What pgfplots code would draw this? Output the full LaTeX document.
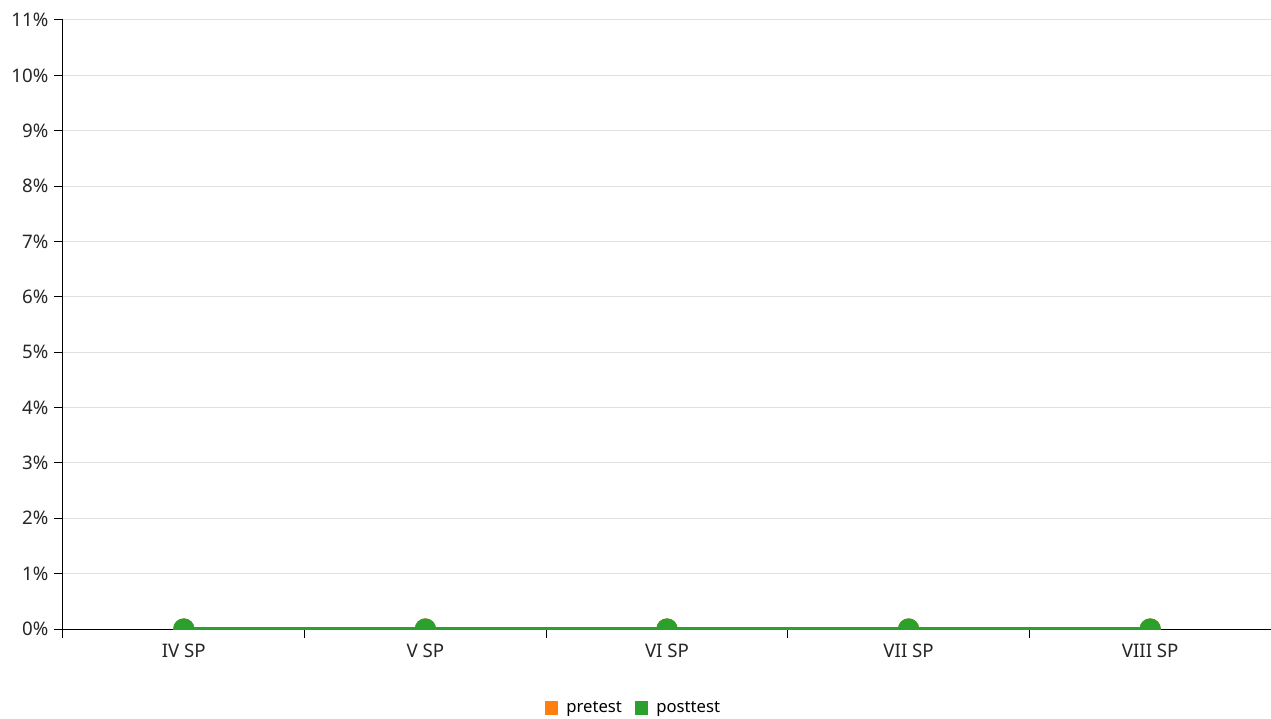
\documentclass[border=0pt]{standalone}
\usepackage{pgfplots}
\pgfplotsset{compat=1.18}
\usepackage{fontspec}
\setmainfont{Noto Sans}

\definecolor{cpre}{HTML}{FF7F0E}
\definecolor{cpost}{HTML}{2CA02C}
\definecolor{gridc}{HTML}{E0E0E0}

\begin{document}
\begin{tikzpicture}
\begin{axis}[
    scale only axis,
    width=906pt, height=456.75pt,
    xmin=-0.5, xmax=4.5,
    ymin=0, ymax=11,
    clip marker paths=true,
    axis x line=bottom, axis y line=left,
    axis line style={-, black, line width=0.75pt},
    xtick={0,1,2,3,4},
    xticklabels={IV SP, V SP, VI SP, VII SP, VIII SP},
    major x tick style={draw=none},
    minor xtick={-0.5,0.5,1.5,2.5,3.5,4.5},
    minor x tick style={black, line width=0.75pt},
    minor tick length=7pt,
    ytick={0,1,...,11},
    yticklabel={\pgfmathprintnumber{\tick}\%},
    y tick style={black, line width=0.75pt},
    major tick length=6.5pt,
    tick align=outside,
    ymajorgrids,
    grid style={gridc, line width=0.75pt},
    /pgf/number format/assume math mode=true,
    tick label style={font=\fontsize{14}{16}\selectfont, text=black!85},
    xticklabel style={yshift=-1.5pt},
    yticklabel style={xshift=-1pt},
    legend style={
        at={(0.4727,-0.1297)}, anchor=center,
        draw=none, fill=none,
        legend columns=-1,
        font=\fontsize{12.5}{14}\selectfont,
        /tikz/every odd column/.append style={column sep=4pt},
        /tikz/every even column/.append style={column sep=8pt},
    },
    legend image code/.code={\fill[#1, draw=none] (0pt,-4.9pt) rectangle (9.8pt,4.9pt);},
]
\addplot[color=cpre, line width=3.5pt, mark=*, mark size=6.2pt, fill=cpre]
    coordinates {(0,0) (1,0) (2,0) (3,0) (4,0)};
\addlegendentry{pretest}
\addplot[color=cpost, line width=3.5pt, mark=*, mark size=6.2pt, fill=cpost]
    coordinates {(0,0) (1,0) (2,0) (3,0) (4,0)};
\addlegendentry{posttest}
\end{axis}
\pgfresetboundingbox
\path (-47.25pt,-66.75pt) rectangle (906pt,471.75pt);
\end{tikzpicture}
\end{document}
